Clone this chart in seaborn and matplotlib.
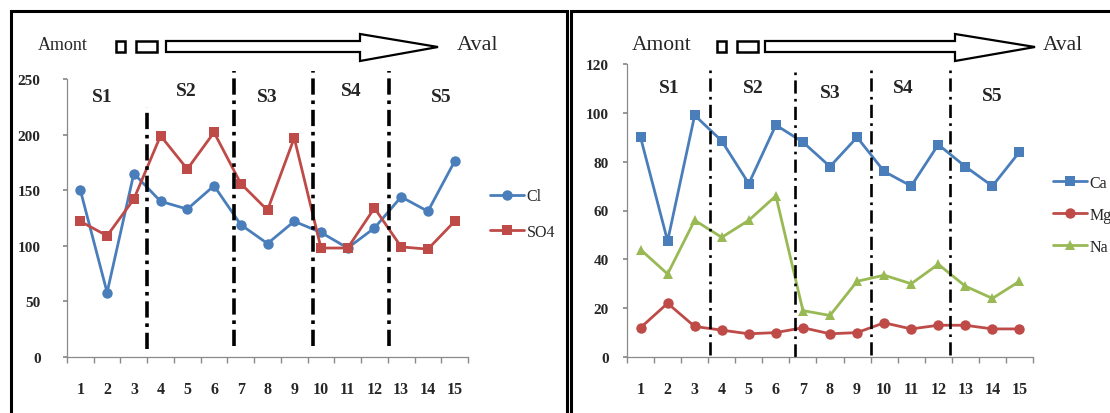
import matplotlib
matplotlib.use("Agg")
import matplotlib.pyplot as plt
import numpy as np
import pandas as pd
import seaborn as sns
from matplotlib.patches import Polygon, Rectangle

# ------------------------------
# DATA
# ------------------------------
sites = list(range(1, 16))
site_labels = [str(s) for s in sites]

cl = [150, 58, 165, 140, 133, 154, 119, 102, 122, 112, 98, 116, 144, 131, 176]
so4 = [122, 109, 142, 199, 169, 202, 156, 132, 197, 98, 98, 134, 99, 97, 122]

ca = [90, 47.5, 99, 88.5, 71, 95, 88, 78, 90, 76, 70, 87, 78, 70, 84]
mg = [12, 22, 12.5, 11, 9.5, 10, 12, 9.5, 10, 14, 11.5, 13, 13, 11.5, 11.5]
na = [44, 34, 56, 49, 56, 66, 19, 17, 31, 33.5, 30, 38, 29, 24, 31]

sections = ["S1", "S2", "S3", "S4", "S5"]
# section label positions (x in site units, y in data units)
left_sec_x = [1.8, 4.95, 8.0, 11.15, 14.5]
left_sec_y = [234, 240, 234, 240, 234]
right_sec_x = [2.05, 5.15, 8.0, 10.7, 14.0]
right_sec_y = [110.5, 110.5, 108.5, 110.5, 107]

# section boundaries (dash-dot lines)
left_bounds = [3.5, 6.75, 9.7, 12.55]
left_bounds_top = [225, 257, 257, 257]
left_bounds_bot = [7, 10, 10, 10]
right_bounds = [3.55, 6.7, 9.5, 12.45]
right_bounds_top = [118, 118, 119, 118]
right_bounds_bot = [1, 0, 1, 1]

BLUE = "#4A7EBB"
RED = "#BE4B48"
GREEN = "#98B954"

W, H = 1110, 414


def px(x, y):
    return (x / W, 1 - y / H)


sns.set_theme(style="white")
plt.rcParams["font.family"] = ["Liberation Serif", "DejaVu Serif"]

fig = plt.figure(figsize=(W / 100, H / 100), dpi=100)
ax1 = fig.add_axes([67 / W, 56 / H, 401 / W, 278 / H])
ax2 = fig.add_axes([627 / W, 56 / H, 406 / W, 293 / H])

# ------------------------------
# LINES
# ------------------------------
df1 = pd.DataFrame({
    "site": sites * 2,
    "value": cl + so4,
    "ion": ["Cl"] * 15 + ["SO4"] * 15,
})
df2 = pd.DataFrame({
    "site": sites * 3,
    "value": ca + mg + na,
    "ion": ["Ca"] * 15 + ["Mg"] * 15 + ["Na"] * 15,
})

sns.lineplot(data=df1, x="site", y="value", hue="ion", style="ion",
             palette={"Cl": BLUE, "SO4": RED},
             markers={"Cl": "o", "SO4": "s"}, dashes=False,
             markersize=7.5, linewidth=2, markeredgewidth=0, ax=ax1)
sns.lineplot(data=df2, x="site", y="value", hue="ion", style="ion",
             palette={"Ca": BLUE, "Mg": RED, "Na": GREEN},
             markers={"Ca": "s", "Mg": "o", "Na": "^"}, dashes=False,
             markersize=7.5, linewidth=2, markeredgewidth=0, ax=ax2)

# ------------------------------
# AXES
# ------------------------------
for ax, ymax, ystep in [(ax1, 250, 50), (ax2, 120, 20)]:
    ax.set_xlim(0.5, 15.5)
    ax.set_ylim(0, ymax)
    ax.set_yticks(np.arange(0, ymax + 1, ystep))
    ax.set_xticks(sites)
    ax.set_xticklabels(site_labels)
    ax.set_xticks(np.arange(0.5, 16, 1), minor=True)
    ax.set_xlabel("")
    ax.set_ylabel("")
    ax.patch.set_alpha(0)
    for s in ["top", "right"]:
        ax.spines[s].set_visible(False)
    for s in ["left", "bottom"]:
        ax.spines[s].set_color("#8a8a8a")
        ax.spines[s].set_linewidth(0.9)
    ax.tick_params(axis="x", which="major", length=0, pad=17,
                   labelsize=11.5)
    ax.tick_params(axis="x", which="minor", length=4, direction="out",
                   color="#8a8a8a", bottom=True)
    ax.tick_params(axis="y", length=3, direction="out", color="#8a8a8a",
                   left=True, labelsize=11)
    for lab in ax.get_xticklabels() + ax.get_yticklabels():
        lab.set_fontweight("bold")

ax1.tick_params(axis="y", pad=16)
ax2.tick_params(axis="y", pad=10)

# section boundaries
for x, y0, y1 in zip(left_bounds, left_bounds_bot, left_bounds_top):
    ax1.plot([x, x], [y0, y1], color="black", lw=2.6,
             linestyle=(0, (4.5, 1.6, 1.0, 1.6)), clip_on=False)
for x, y0, y1 in zip(right_bounds, right_bounds_bot, right_bounds_top):
    ax2.plot([x, x], [y0, y1], color="black", lw=1.9,
             linestyle=(0, (5, 2, 1.0, 2)), clip_on=False)

# section labels
for name, x, y in zip(sections, left_sec_x, left_sec_y):
    ax1.text(x, y, name, ha="center", va="center", fontsize=14,
             fontweight="bold")
for name, x, y in zip(sections, right_sec_x, right_sec_y):
    ax2.text(x, y, name, ha="center", va="center", fontsize=14,
             fontweight="bold")

# legends
sns.move_legend(ax1, loc="center left", bbox_to_anchor=(490 / W, 1 - 215 / H),
                bbox_transform=fig.transFigure, frameon=False, title=None,
                fontsize=11.5, handlelength=2.1, handletextpad=0.2,
                labelspacing=1.2, borderpad=0, borderaxespad=0)
sns.move_legend(ax2, loc="center left", bbox_to_anchor=(1053 / W, 1 - 216 / H),
                bbox_transform=fig.transFigure, frameon=False, title=None,
                fontsize=11.5, handlelength=2.1, handletextpad=0.2,
                labelspacing=1.0, borderpad=0, borderaxespad=0)

# ------------------------------
# PANEL FRAMES AND FLOW ARROWS
# ------------------------------
fig.patches.append(Rectangle(px(11, 430), 556 / W, 418 / H, fill=False,
                             lw=2.2, ec="black", transform=fig.transFigure))
fig.patches.append(Rectangle(px(571, 430), 560 / W, 418 / H, fill=False,
                             lw=2.2, ec="black", transform=fig.transFigure))


def flow_arrow(amont_x, sq_x, rect_x, shaft_x0, head_x, tip_x, aval_x,
               amont_size, aval_size):
    fig.text(*px(amont_x, 45), "Amont", ha="left", va="center",
             fontsize=amont_size)
    fig.text(*px(aval_x, 46), "Aval", ha="left", va="center",
             fontsize=aval_size)
    fig.patches.append(Rectangle(px(sq_x, 53), 9 / W, 11 / H, fill=False,
                                 lw=1.8, ec="black", transform=fig.transFigure))
    fig.patches.append(Rectangle(px(rect_x, 53), 21 / W, 11 / H, fill=False,
                                 lw=1.8, ec="black", transform=fig.transFigure))
    pts = [px(shaft_x0, 42), px(head_x, 42), px(head_x, 35), px(tip_x, 48),
           px(head_x, 62), px(head_x, 53), px(shaft_x0, 53)]
    fig.patches.append(Polygon(pts, closed=True, fill=True, fc="white",
                               ec="black", lw=1.6, transform=fig.transFigure))


flow_arrow(38, 116, 136, 166, 360, 438, 457, 13, 16)
flow_arrow(632, 717, 737, 765, 955, 1035, 1043, 15.5, 15.5)

fig.savefig("out.png", dpi=100)
